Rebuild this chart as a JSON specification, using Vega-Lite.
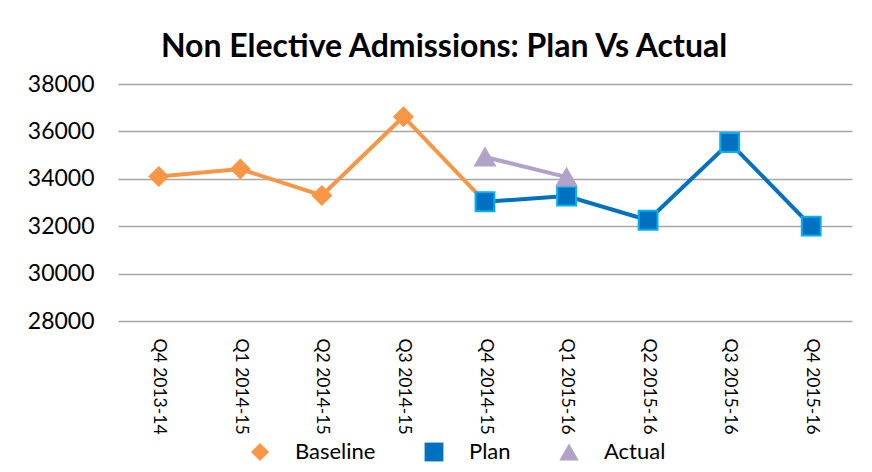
{
  "$schema": "https://vega.github.io/schema/vega-lite/v6.json",
  "autosize": "none",
  "width": 734,
  "height": 237,
  "padding": {"left": 118, "top": 84, "right": 20, "bottom": 151},
  "background": "white",
  "config": {"view": {"stroke": null}},
  "title": {
    "text": "Non Elective Admissions: Plan Vs Actual",
    "font": "Lato",
    "fontSize": 32,
    "fontWeight": "bold",
    "color": "#000000",
    "anchor": "middle",
    "dx": -41,
    "offset": 9
  },
  "data": {
    "values": [
      {"quarter": "Q4 2013-14", "series": "Baseline", "value": 34100},
      {"quarter": "Q1 2014-15", "series": "Baseline", "value": 34410},
      {"quarter": "Q2 2014-15", "series": "Baseline", "value": 33300},
      {"quarter": "Q3 2014-15", "series": "Baseline", "value": 36620},
      {"quarter": "Q4 2014-15", "series": "Baseline", "value": 33030},
      {"quarter": "Q4 2014-15", "series": "Plan", "value": 33030},
      {"quarter": "Q1 2015-16", "series": "Plan", "value": 33270},
      {"quarter": "Q2 2015-16", "series": "Plan", "value": 32250},
      {"quarter": "Q3 2015-16", "series": "Plan", "value": 35530},
      {"quarter": "Q4 2015-16", "series": "Plan", "value": 32000},
      {"quarter": "Q4 2014-15", "series": "Actual", "value": 34920},
      {"quarter": "Q1 2015-16", "series": "Actual", "value": 34070}
    ]
  },
  "encoding": {
    "x": {
      "field": "quarter",
      "type": "nominal",
      "sort": ["Q4 2013-14","Q1 2014-15","Q2 2014-15","Q3 2014-15","Q4 2014-15","Q1 2015-16","Q2 2015-16","Q3 2015-16","Q4 2015-16"],
      "scale": {"type": "point", "padding": 0.5},
      "axis": {
        "title": null,
        "labelAngle": 90,
        "labelFont": "Lato",
        "labelFontSize": 17.5,
        "labelColor": "#000000",
        "labelPadding": 17,
        "ticks": false,
        "domain": false,
        "grid": false
      }
    },
    "y": {
      "field": "value",
      "type": "quantitative",
      "scale": {"domain": [28000, 38000], "nice": false, "zero": false},
      "axis": {
        "title": null,
        "values": [28000, 30000, 32000, 34000, 36000, 38000],
        "format": "d",
        "labelFont": "Lato",
        "labelFontSize": 23,
        "labelColor": "#000000",
        "labelPadding": 24,
        "ticks": false,
        "domain": false,
        "grid": true,
        "gridColor": "#A6A6A6",
        "gridWidth": 1.5
      }
    },
    "color": {
      "field": "series",
      "type": "nominal",
      "scale": {"domain": ["Baseline", "Plan", "Actual"], "range": ["#F79646", "#0070C0", "#B3A2C7"]},
      "legend": {
        "title": null,
        "orient": "none",
        "legendX": 131,
        "legendY": 357,
        "direction": "horizontal",
        "labelFont": "Lato",
        "labelFontSize": 22,
        "labelColor": "#000000",
        "labelOffset": 24,
        "columnPadding": 47,
        "symbolSize": 300,
        "symbolStrokeWidth": 0,
        "symbolOpacity": 1
      }
    }
  },
  "layer": [
    {
      "mark": {"type": "line", "strokeWidth": 4},
      "encoding": {"detail": {"field": "series"}}
    },
    {
      "mark": {"type": "point", "filled": true, "opacity": 1, "strokeWidth": 2},
      "encoding": {
        "shape": {
          "field": "series",
          "type": "nominal",
          "scale": {"domain": ["Baseline", "Plan", "Actual"], "range": ["diamond", "square", "triangle-up"]},
          "legend": null
        },
        "size": {
          "field": "series",
          "type": "nominal",
          "scale": {"domain": ["Baseline", "Plan", "Actual"], "range": [330, 380, 420]},
          "legend": null
        },
        "stroke": {
          "field": "series",
          "type": "nominal",
          "scale": {"domain": ["Baseline", "Plan", "Actual"], "range": ["#F79646", "#00B0F0", "#B3A2C7"]},
          "legend": null
        }
      }
    }
  ]
}
